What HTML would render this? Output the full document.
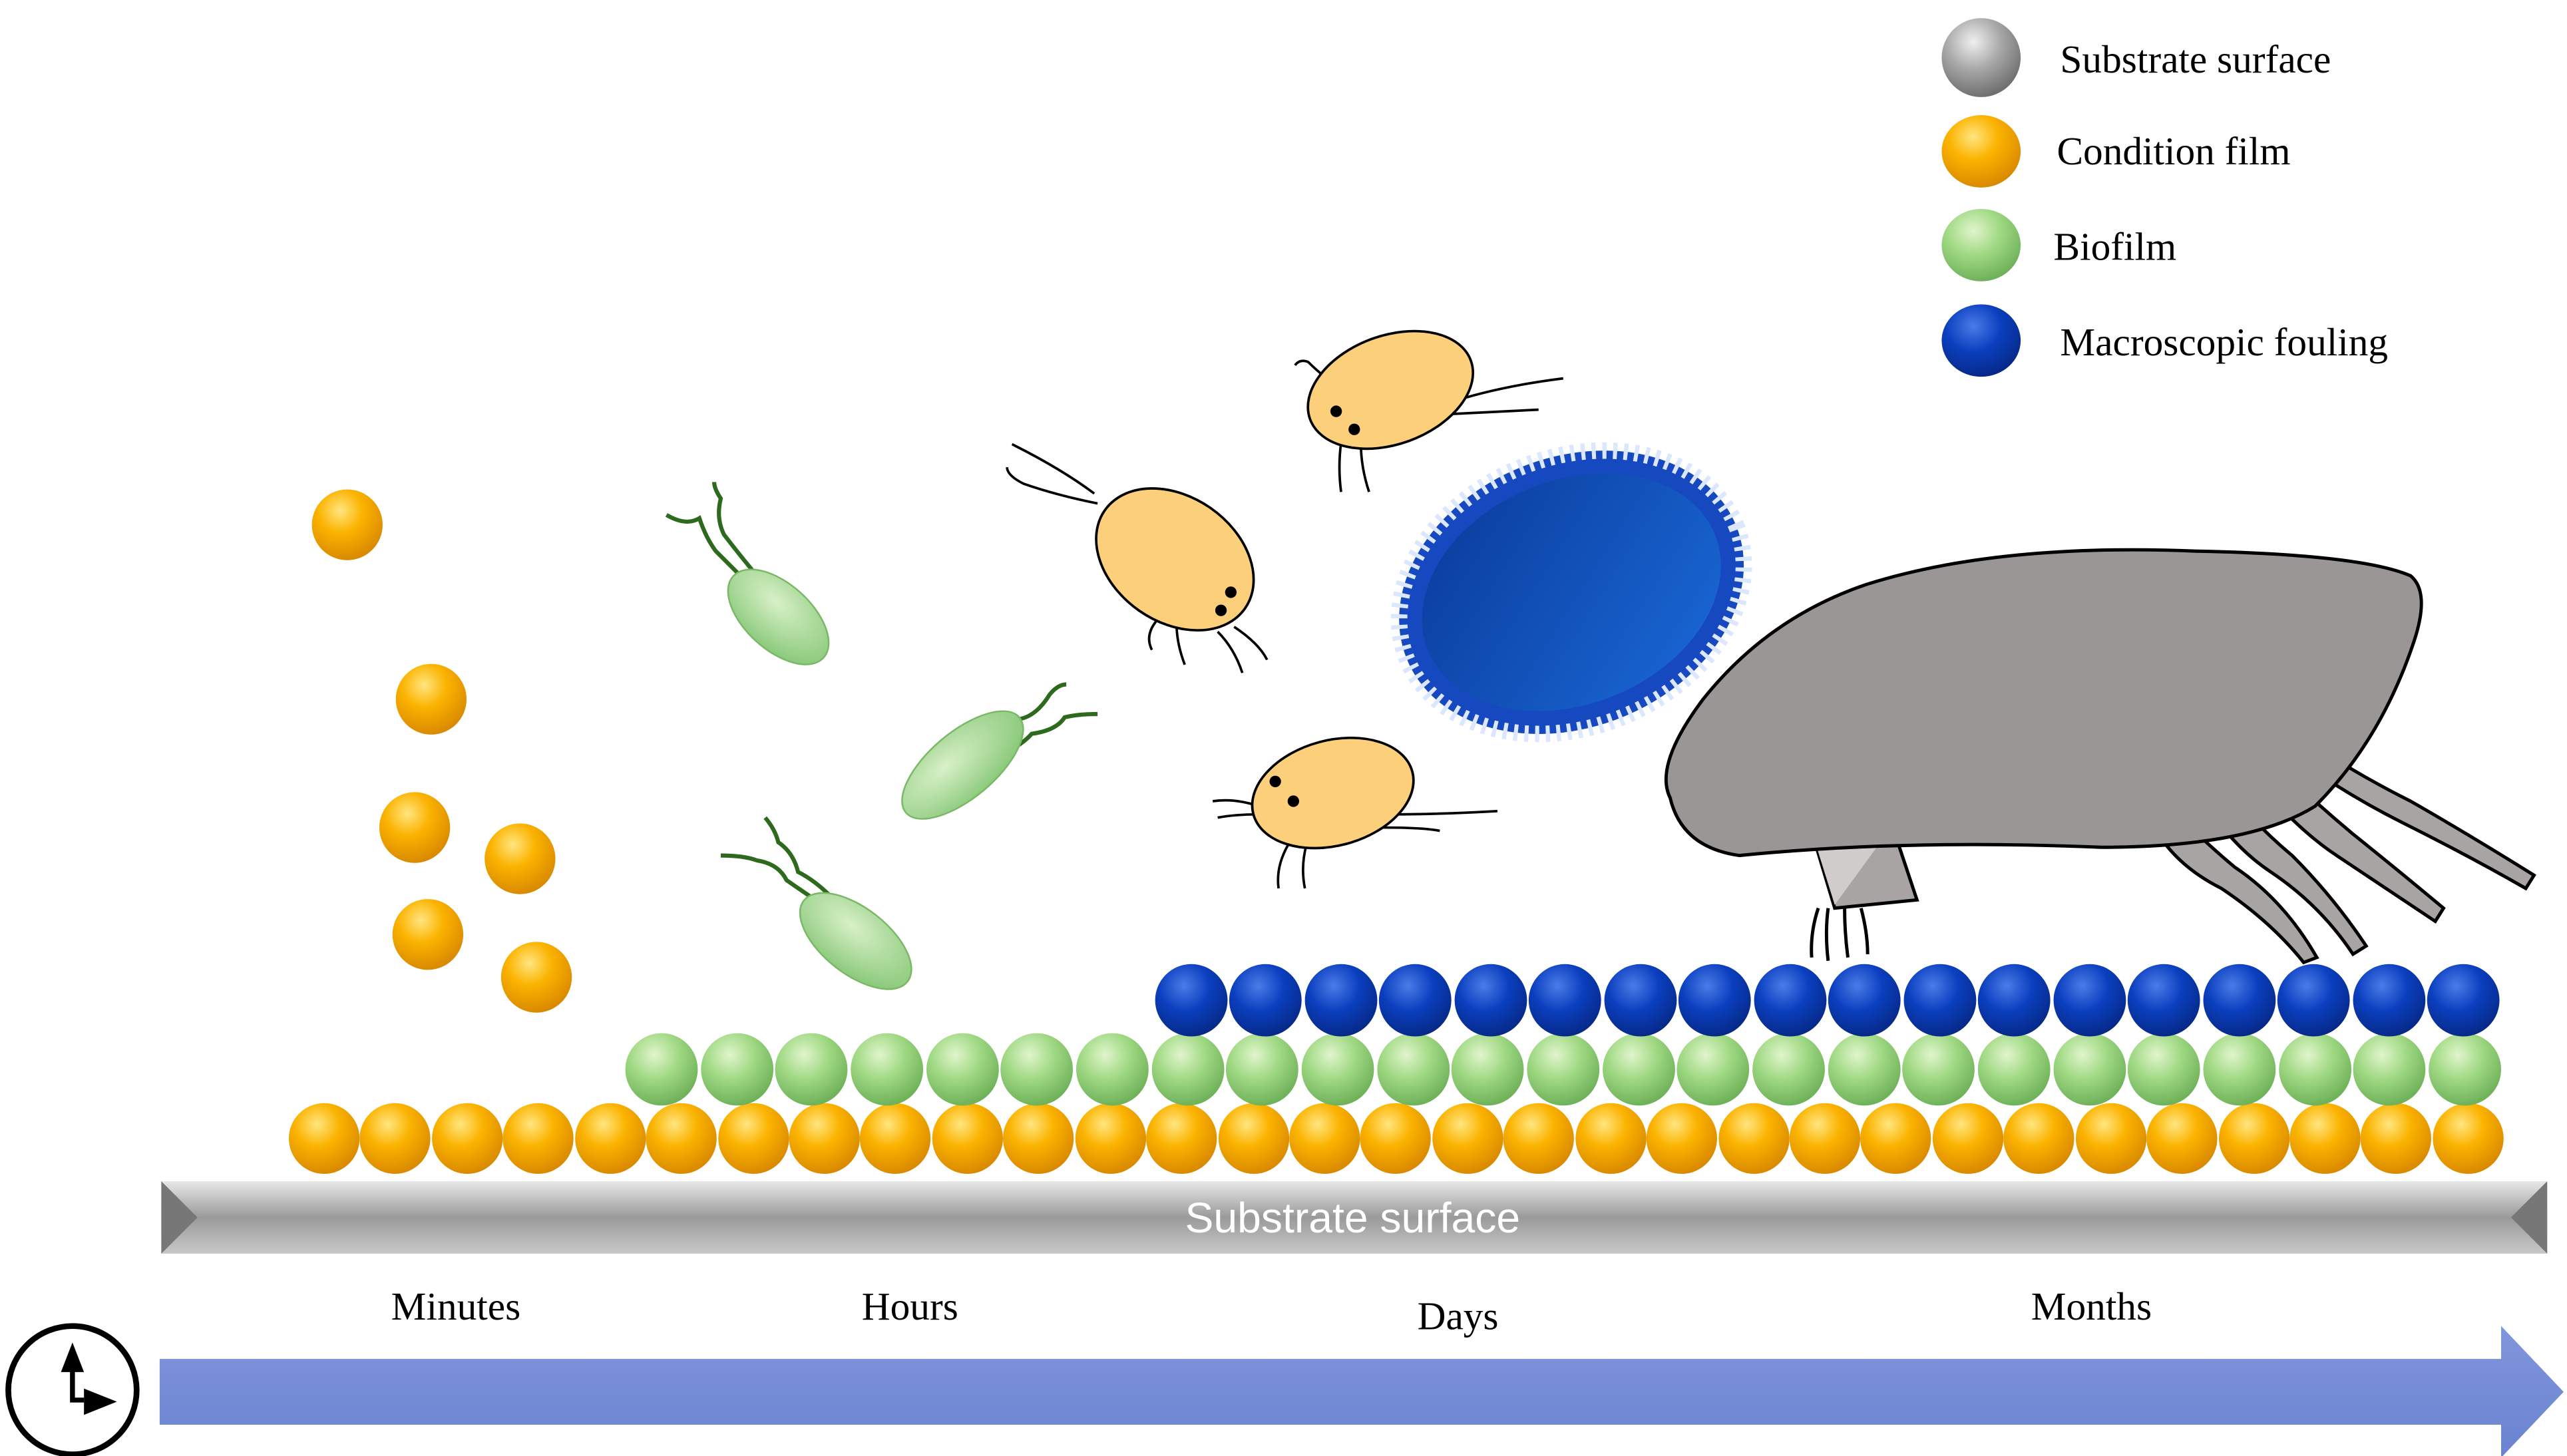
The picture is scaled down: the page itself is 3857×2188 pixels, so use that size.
<!DOCTYPE html>
<html><head><meta charset="utf-8"><style>html,body{margin:0;padding:0;background:#fff}svg{display:block}</style></head>
<body>
<svg width="3857" height="2188" viewBox="0 0 1560 885" xmlns="http://www.w3.org/2000/svg" font-family="Liberation Serif, serif">
<defs>
<radialGradient id="go" cx="0.4" cy="0.3" r="0.7"><stop offset="0" stop-color="#ffe680"/><stop offset="0.45" stop-color="#fbb300"/><stop offset="1" stop-color="#d98a00"/></radialGradient>
<radialGradient id="gg" cx="0.4" cy="0.3" r="0.7"><stop offset="0" stop-color="#e0f5cc"/><stop offset="0.5" stop-color="#9fd882"/><stop offset="1" stop-color="#6fb25a"/></radialGradient>
<radialGradient id="gb" cx="0.4" cy="0.3" r="0.7"><stop offset="0" stop-color="#4a7ce8"/><stop offset="0.5" stop-color="#0b3fbf"/><stop offset="1" stop-color="#062a8a"/></radialGradient>
<radialGradient id="gs" cx="0.4" cy="0.3" r="0.7"><stop offset="0" stop-color="#f0f0f0"/><stop offset="0.5" stop-color="#a8a8a8"/><stop offset="1" stop-color="#707070"/></radialGradient>
<linearGradient id="bar" x1="0" y1="0" x2="0" y2="1"><stop offset="0" stop-color="#e8e8e8"/><stop offset="0.5" stop-color="#9a9a9a"/><stop offset="1" stop-color="#c8c8c8"/></linearGradient>
<linearGradient id="arr" x1="0" y1="0" x2="0" y2="1"><stop offset="0" stop-color="#8096dc"/><stop offset="1" stop-color="#6a83d0"/></linearGradient>
<linearGradient id="cell" x1="0" y1="0" x2="1" y2="1"><stop offset="0" stop-color="#0a3a9a"/><stop offset="1" stop-color="#1a6ad8"/></linearGradient>
<radialGradient id="bact" cx="0.4" cy="0.35" r="0.7"><stop offset="0" stop-color="#d8f0c8"/><stop offset="1" stop-color="#88c878"/></radialGradient>
<circle id="o" r="21.5" fill="url(#go)"/>
<circle id="g" r="22" fill="url(#gg)"/>
<circle id="b" r="22" fill="url(#gb)"/>
</defs>

<ellipse cx="1204" cy="35" rx="24" ry="24" fill="url(#gs)"/>
<ellipse cx="1204" cy="92" rx="24" ry="22" fill="url(#go)"/>
<ellipse cx="1204" cy="149" rx="24" ry="22" fill="url(#gg)"/>
<ellipse cx="1204" cy="207" rx="24" ry="22" fill="url(#gb)"/>
<g font-size="24" fill="#000">
<text x="1252" y="44">Substrate surface</text>
<text x="1250" y="100">Condition film</text>
<text x="1248" y="158">Biofilm</text>
<text x="1252" y="216">Macroscopic fouling</text>
</g>

<use href="#o" x="211" y="319"/><use href="#o" x="262" y="425"/><use href="#o" x="252" y="503"/>
<use href="#o" x="316" y="522"/><use href="#o" x="260" y="568"/><use href="#o" x="326" y="594"/>

<g stroke="#2e6a1e" stroke-width="2.5" fill="none">
<path d="M455 355 q-10 -10 -20 -20 q-6 -8 -10 -20 q-8 5 -20 -2"/><path d="M460 350 q-10 -12 -20 -25 q-5 -10 -2 -22 q-4 -6 -4 -10"/>
<path d="M600 455 q12 -10 20 -18 q10 -2 18 -15 q5 -6 10 -6"/><path d="M605 460 q15 -6 22 -14 q15 -2 20 -10 q8 -2 20 -2"/>
<path d="M500 550 q-12 -8 -22 -15 q-5 -10 -18 -12 q-8 -3 -22 -3"/><path d="M505 545 q-10 -10 -20 -15 q-3 -12 -12 -18 q-2 -8 -8 -15"/>
</g>
<ellipse cx="473" cy="375" rx="37" ry="20" transform="rotate(42 473 375)" fill="url(#bact)" stroke="#7ab868"/>
<ellipse cx="585" cy="465" rx="45" ry="20" transform="rotate(-40 585 465)" fill="url(#bact)" stroke="#7ab868"/>
<ellipse cx="520" cy="572" rx="40" ry="20" transform="rotate(38 520 572)" fill="url(#bact)" stroke="#7ab868"/>

<g stroke="#000" stroke-width="1.5" fill="none">
<path d="M665 300 q-20 -15 -50 -30 m52 36 q-25 -5 -45 -12 q-10 -5 -10 -10"/>
<path d="M705 375 q-10 10 -5 20 m15 -16 q0 12 5 25 m20 -20 q10 10 15 25 m-5 -28 q15 10 20 20"/>
<path d="M820 240 q-15 -10 -25 -20 q-5 -2 -8 2 m30 25 q-10 -5 -20 -5"/><path d="M880 245 q30 -10 70 -15 m-75 22 q40 -2 60 -3 m-120 20 q-2 15 0 30 m12 -30 q0 15 5 30"/>
<path d="M765 490 q-15 -5 -28 -3 m28 8 q-15 0 -25 2 m105 -2 q30 0 65 -2 m-70 10 q25 0 35 2 m-90 5 q-10 15 -8 30 m18 -30 q-5 15 -2 30"/>
</g>
<ellipse cx="714" cy="340" rx="52" ry="38" transform="rotate(35 714 340)" fill="#fccf7a" stroke="#000" stroke-width="1.5"/>
<circle cx="748" cy="360" r="3.5"/><circle cx="742" cy="371" r="3.5"/>
<ellipse cx="845" cy="237" rx="52" ry="33" transform="rotate(-20 845 237)" fill="#fccf7a" stroke="#000" stroke-width="1.5"/>
<circle cx="812" cy="250" r="3.5"/><circle cx="823" cy="261" r="3.5"/>
<ellipse cx="810" cy="482" rx="50" ry="32" transform="rotate(-15 810 482)" fill="#fccf7a" stroke="#000" stroke-width="1.5"/>
<circle cx="775" cy="475" r="3.5"/><circle cx="786" cy="487" r="3.5"/>

<ellipse cx="955" cy="360" rx="108" ry="82" transform="rotate(-22 955 360)" fill="#1648c0"/>
<ellipse cx="955" cy="360" rx="108" ry="82" transform="rotate(-22 955 360)" fill="none" stroke="#dbe6ff" stroke-width="10" stroke-dasharray="2.5 4"/>
<ellipse cx="955" cy="360" rx="94" ry="68" transform="rotate(-22 955 360)" fill="url(#cell)"/>

<g stroke="#000" stroke-width="2" fill="#a8a4a4">
<path d="M1380 450 q40 30 80 50 q40 20 75 40 l5 -8 q-40 -25 -75 -45 q-40 -20 -75 -45z"/>
<path d="M1360 460 q30 40 60 60 q30 20 60 40 l5 -8 q-30 -25 -55 -45 q-30 -25 -60 -55z"/>
<path d="M1330 470 q20 40 50 60 q30 20 50 50 l8 -5 q-20 -30 -45 -55 q-30 -25 -50 -55z"/>
<path d="M1300 480 q10 40 50 60 q30 20 50 45 l8 -3 q-20 -35 -50 -55 q-30 -25 -50 -50z"/>
<path d="M1100 502 l50 0 l15 45 l-50 5 z"/>
<path d="M1100 502 l50 0 l-35 48 z" fill="#d0cccc" stroke="none"/>
<path d="M1105 552 q-5 15 -4 30 m10 -30 q-2 15 0 32 m10 -32 q0 15 2 30 m8 -30 q4 15 4 28" fill="none"/>
<path d="M1015 485 q-10 -20 20 -60 q40 -50 100 -70 q80 -25 200 -20 q100 2 130 15 q12 10 2 40 q-20 60 -60 100 q-40 25 -130 25 q-120 -5 -220 5 q-35 -5 -42 -35z" fill="#9a9696"/>
</g>

<g>
<use href="#o" x="197" y="692"/><use href="#o" x="240" y="692"/><use href="#o" x="284" y="692"/><use href="#o" x="327" y="692"/><use href="#o" x="371" y="692"/><use href="#o" x="414" y="692"/><use href="#o" x="458" y="692"/><use href="#o" x="501" y="692"/><use href="#o" x="544" y="692"/><use href="#o" x="588" y="692"/><use href="#o" x="631" y="692"/><use href="#o" x="675" y="692"/><use href="#o" x="718" y="692"/><use href="#o" x="762" y="692"/><use href="#o" x="805" y="692"/><use href="#o" x="848" y="692"/><use href="#o" x="892" y="692"/><use href="#o" x="935" y="692"/><use href="#o" x="979" y="692"/><use href="#o" x="1022" y="692"/><use href="#o" x="1066" y="692"/><use href="#o" x="1109" y="692"/><use href="#o" x="1152" y="692"/><use href="#o" x="1196" y="692"/><use href="#o" x="1239" y="692"/><use href="#o" x="1283" y="692"/><use href="#o" x="1326" y="692"/><use href="#o" x="1370" y="692"/><use href="#o" x="1413" y="692"/><use href="#o" x="1456" y="692"/><use href="#o" x="1500" y="692"/>
</g>
<g>
<use href="#g" x="402" y="650"/><use href="#g" x="448" y="650"/><use href="#g" x="493" y="650"/><use href="#g" x="539" y="650"/><use href="#g" x="585" y="650"/><use href="#g" x="630" y="650"/><use href="#g" x="676" y="650"/><use href="#g" x="722" y="650"/><use href="#g" x="767" y="650"/><use href="#g" x="813" y="650"/><use href="#g" x="859" y="650"/><use href="#g" x="904" y="650"/><use href="#g" x="950" y="650"/><use href="#g" x="996" y="650"/><use href="#g" x="1041" y="650"/><use href="#g" x="1087" y="650"/><use href="#g" x="1133" y="650"/><use href="#g" x="1178" y="650"/><use href="#g" x="1224" y="650"/><use href="#g" x="1270" y="650"/><use href="#g" x="1315" y="650"/><use href="#g" x="1361" y="650"/><use href="#g" x="1407" y="650"/><use href="#g" x="1452" y="650"/><use href="#g" x="1498" y="650"/>
</g>
<g>
<use href="#b" x="724" y="608"/><use href="#b" x="769" y="608"/><use href="#b" x="815" y="608"/><use href="#b" x="860" y="608"/><use href="#b" x="906" y="608"/><use href="#b" x="951" y="608"/><use href="#b" x="997" y="608"/><use href="#b" x="1042" y="608"/><use href="#b" x="1088" y="608"/><use href="#b" x="1133" y="608"/><use href="#b" x="1179" y="608"/><use href="#b" x="1224" y="608"/><use href="#b" x="1270" y="608"/><use href="#b" x="1315" y="608"/><use href="#b" x="1361" y="608"/><use href="#b" x="1406" y="608"/><use href="#b" x="1452" y="608"/><use href="#b" x="1497" y="608"/>
</g>

<rect x="98" y="718" width="1450" height="44" fill="url(#bar)"/>
<polygon points="98,718 120,740 98,762" fill="#777"/>
<polygon points="1548,718 1526,740 1548,762" fill="#777"/>
<text x="822" y="749" font-family="Liberation Sans, sans-serif" font-size="26" fill="#fff" text-anchor="middle">Substrate surface</text>

<g font-size="24" fill="#000" text-anchor="middle">
<text x="277" y="802">Minutes</text><text x="553" y="802">Hours</text><text x="886" y="808">Days</text><text x="1271" y="802">Months</text>
</g>

<polygon points="97,826 1520,826 1520,806 1558,846 1520,886 1520,866 97,866" fill="url(#arr)"/>

<circle cx="44" cy="845" r="39" fill="#fff" stroke="#000" stroke-width="3.5"/>
<polyline points="44,833 44,851 51,851" fill="none" stroke="#000" stroke-width="3"/>
<polygon points="44,816 37,834 51,834" fill="#000"/>
<polygon points="51,844 51,860 71,852" fill="#000"/>
</svg>
</body></html>
